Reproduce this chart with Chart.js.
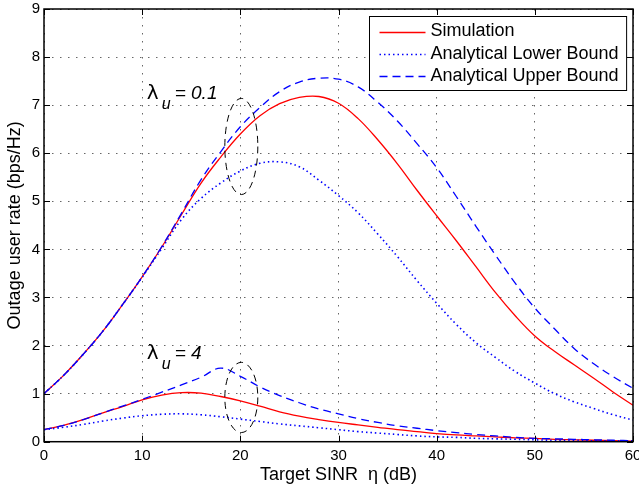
<!DOCTYPE html>
<html><head><meta charset="utf-8">
<script src="https://cdn.jsdelivr.net/npm/chart.js@4/dist/chart.umd.min.js"></script>
<style>html,body{margin:0;padding:0;background:#fff;overflow:hidden}</style>
</head><body>
<canvas id="c" width="639" height="492" style="display:block;width:639px;height:492px"></canvas>
<script>
// ---- data ----
const sinrDb = [0,2,4,6,8,10,12,14,16,18,20,22,24,26,28,30,32,34,36,38,40,42,44,46,48,50,52,54,56,58,60];
const simLambda01   = [1.00,1.38,1.82,2.30,2.85,3.43,4.05,4.72,5.38,5.92,6.40,6.78,7.03,7.16,7.18,7.04,6.72,6.28,5.78,5.23,4.70,4.18,3.64,3.10,2.62,2.20,1.88,1.60,1.32,1.03,0.76];
const lowerLambda01 = [1.00,1.38,1.82,2.30,2.85,3.42,4.02,4.62,5.06,5.38,5.63,5.79,5.82,5.72,5.44,5.12,4.76,4.32,3.85,3.35,2.88,2.44,2.06,1.75,1.46,1.22,1.00,0.83,0.69,0.56,0.45];
const upperLambda01 = [1.00,1.38,1.82,2.30,2.85,3.43,4.06,4.75,5.45,6.03,6.55,6.95,7.28,7.48,7.56,7.54,7.38,7.06,6.67,6.20,5.70,5.10,4.48,3.88,3.30,2.78,2.35,1.94,1.62,1.35,1.11];
const simLambda4    = [0.25,0.34,0.46,0.60,0.73,0.87,0.97,1.02,1.01,0.94,0.85,0.74,0.62,0.53,0.46,0.40,0.35,0.30,0.25,0.21,0.17,0.14,0.12,0.10,0.08,0.07,0.05,0.04,0.03,0.02,0.01];
const lowerLambda4  = [0.25,0.30,0.36,0.43,0.49,0.54,0.57,0.58,0.56,0.52,0.47,0.42,0.37,0.33,0.29,0.25,0.21,0.18,0.15,0.12,0.10,0.09,0.07,0.06,0.05,0.04,0.03,0.03,0.02,0.02,0.02];
const upperLambda4  = [0.25,0.34,0.46,0.60,0.74,0.88,1.03,1.18,1.34,1.53,1.36,1.14,0.96,0.81,0.68,0.58,0.48,0.40,0.33,0.28,0.23,0.19,0.15,0.12,0.09,0.07,0.06,0.05,0.04,0.03,0.02];
const seriesLabels = ['Simulation','Analytical Lower Bound','Analytical Upper Bound'];
const xTitle = 'Target SINR  \u03B7 (dB)';
const yTitle = 'Outage user rate (bps/Hz)';
const annotationLabels = [
  {lambdaSub:'u', value:'= 0.1', x:10.46, y:7.13},
  {lambdaSub:'u', value:'= 4',   x:10.46, y:1.73}
];
const ellipses = [
  {cx:20.1, cy:6.14, rx:1.68, ry:1.00},
  {cx:20.1, cy:0.92, rx:1.68, ry:0.73}
];

// ---- styles ----
const FONT = "'Liberation Sans', Arial, Helvetica, sans-serif";
const RED = '#ff0000', BLUE = '#0000ff';
const styles = [
  {color:RED,  dash:[],      width:1.3},
  {color:BLUE, dash:[1.5,3], width:1.6},
  {color:BLUE, dash:[8,5],   width:1.3}
];
function pts(ys){ return sinrDb.map((x,i)=>({x:x, y:ys[i]})); }
function ds(label, ys, st){
  return {label:label, data:pts(ys), borderColor:st.color, borderDash:st.dash, borderWidth:st.width,
          pointRadius:0, fill:false, tension:0.4, cubicInterpolationMode:'default'};
}

const overlay = {
  id:'overlay',
  afterDatasetsDraw(chart){
    const ctx = chart.ctx, ca = chart.chartArea, xs = chart.scales.x, ys = chart.scales.y;
    ctx.save();
    // ellipses
    ctx.strokeStyle = '#000'; ctx.lineWidth = 1; ctx.setLineDash([7,5]);
    ellipses.forEach(e=>{
      const cx = xs.getPixelForValue(e.cx), cy = ys.getPixelForValue(e.cy);
      const rx = Math.abs(xs.getPixelForValue(e.cx+e.rx)-cx), ry = Math.abs(ys.getPixelForValue(e.cy+e.ry)-cy);
      ctx.beginPath(); ctx.ellipse(cx,cy,rx,ry,0,0,Math.PI*2); ctx.stroke();
    });
    ctx.setLineDash([]);
    // annotations
    ctx.fillStyle = '#000'; ctx.textBaseline = 'alphabetic'; ctx.textAlign = 'left';
    annotationLabels.forEach(a=>{
      const x = xs.getPixelForValue(a.x), y = ys.getPixelForValue(a.y);
      ctx.font = "20px 'DejaVu Sans', " + FONT; ctx.fillText('\u03BB', x, y);
      ctx.font = 'italic 16px ' + FONT; ctx.fillText(a.lambdaSub, x+15, y+10);
      ctx.font = 'italic 19px ' + FONT; ctx.fillText(a.value, x+28, y);
    });
    // axes box
    ctx.strokeStyle = '#000'; ctx.lineWidth = 1.5;
    ctx.strokeRect(ca.left, ca.top, ca.right-ca.left, ca.bottom-ca.top);
    // inward ticks
    ctx.lineWidth = 1;
    const T = 6;
    ctx.beginPath();
    xs.ticks.forEach(t=>{
      const px = Math.round(xs.getPixelForValue(t.value))+0.5;
      ctx.moveTo(px, ca.bottom); ctx.lineTo(px, ca.bottom-T);
      ctx.moveTo(px, ca.top); ctx.lineTo(px, ca.top+T);
    });
    ys.ticks.forEach(t=>{
      const py = Math.round(ys.getPixelForValue(t.value))+0.5;
      ctx.moveTo(ca.left, py); ctx.lineTo(ca.left+T, py);
      ctx.moveTo(ca.right, py); ctx.lineTo(ca.right-T, py);
    });
    ctx.stroke();
    // legend
    ctx.font = '18px ' + FONT;
    let maxW = 0;
    seriesLabels.forEach(l=>{ maxW = Math.max(maxW, ctx.measureText(l).width); });
    const lw = 61 + maxW + 8, lh = 74;
    const lx = Math.round(ca.right - 7 - lw) + 0.5, ly = Math.round(ca.top + 7) + 0.5;
    ctx.fillStyle = '#fff'; ctx.fillRect(lx, ly, lw, lh);
    ctx.strokeStyle = '#000'; ctx.lineWidth = 1; ctx.strokeRect(lx, ly, lw, lh);
    seriesLabels.forEach((l,i)=>{
      const cy = ly + 15 + i*22.3;
      const st = styles[i];
      ctx.strokeStyle = st.color; ctx.lineWidth = st.width; ctx.setLineDash(st.dash);
      ctx.beginPath(); ctx.moveTo(lx+10, Math.round(cy)+0.5); ctx.lineTo(lx+56, Math.round(cy)+0.5); ctx.stroke();
      ctx.setLineDash([]);
      ctx.fillStyle = '#000'; ctx.textBaseline = 'middle'; ctx.fillText(l, lx+61, cy);
    });
    ctx.restore();
  }
};

new Chart(document.getElementById('c'), {
  type:'line',
  data:{datasets:[
    ds(seriesLabels[2]+' (\u03BB=0.1)', upperLambda01, styles[2]),
    ds(seriesLabels[1]+' (\u03BB=0.1)', lowerLambda01, styles[1]),
    ds(seriesLabels[0]+' (\u03BB=0.1)', simLambda01, styles[0]),
    ds(seriesLabels[2]+' (\u03BB=4)', upperLambda4, styles[2]),
    ds(seriesLabels[1]+' (\u03BB=4)', lowerLambda4, styles[1]),
    ds(seriesLabels[0]+' (\u03BB=4)', simLambda4, styles[0])
  ]},
  options:{
    responsive:false, animation:false, devicePixelRatio:1,
    layout:{padding:{left:0,right:6,top:9,bottom:0}},
    plugins:{legend:{display:false}, tooltip:{enabled:false}},
    scales:{
      x:{type:'linear', min:0, max:60,
        ticks:{stepSize:10, padding:5, color:'#000', font:{family:FONT,size:15}, maxRotation:0, autoSkip:false},
        grid:{color:'rgba(0,0,0,0.6)', lineWidth:1, drawTicks:false},
        border:{display:false, dash:[1.5,6.5]},
        title:{display:true, text:xTitle, color:'#000', font:{family:FONT,size:18}, padding:{top:0,bottom:6}},
        afterFit(s){ s.height = 50.3; s.paddingLeft = 0; s.paddingRight = 0; }
      },
      y:{type:'linear', min:0, max:9,
        ticks:{stepSize:1, padding:4, color:'#000', font:{family:FONT,size:15}},
        grid:{color:'rgba(0,0,0,0.6)', lineWidth:1, drawTicks:false},
        border:{display:false, dash:[1.5,6.5]},
        title:{display:true, text:yTitle, color:'#000', font:{family:FONT,size:18}, padding:{top:4,bottom:0}},
        afterFit(s){ s.width = 44; s.paddingTop = 0; s.paddingBottom = 0; }
      }
    }
  },
  plugins:[overlay]
});
</script>
</body></html>
